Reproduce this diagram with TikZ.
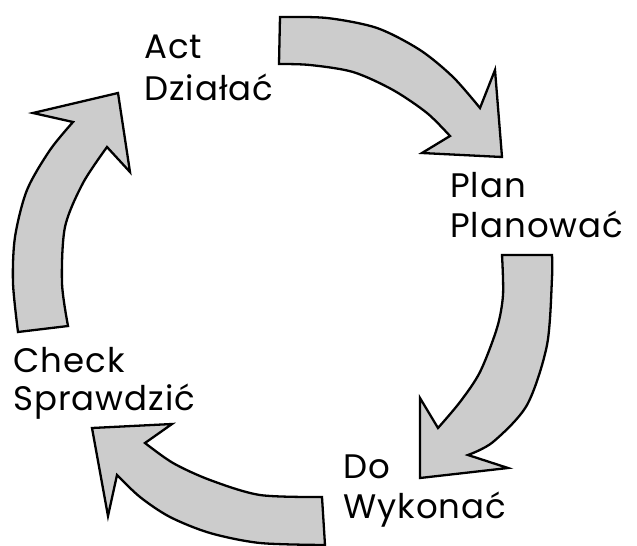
\documentclass[tikz,border=0pt]{standalone}
\usepackage{fontspec}
\setmainfont{Poppins}[LetterSpace=3]
\begin{document}
\begin{tikzpicture}[x=1pt,y=-1pt,
  arrowshape/.style={draw=black,fill=black!20,line width=2.3pt,line join=miter},
  lbl/.style={anchor=base west,inner sep=0pt,font=\fontsize{34}{40}\selectfont}]
\useasboundingbox (0,0) rectangle (637,546);
% top arrow (Act -> Plan)
\draw[arrowshape] plot[smooth] coordinates {(280,17) (327,18) (377,28) (420,50) (453,77) (480,108)}
  -- (495,70) -- (502,157) -- (422,153) -- (450,136)
  -- plot[smooth] coordinates {(450,136) (427,113) (393,90) (353,72) (310,65) (279,64)} -- cycle;
% right arrow (Plan -> Do)
\draw[arrowshape] (502,255) -- (552,255)
  -- plot[smooth] coordinates {(552,255) (552,278) (547,345) (527,405) (493,442) (468,455)}
  -- (508,468) -- (420,478) -- (420,398) -- (438,428)
  -- plot[smooth] coordinates {(438,428) (460,402) (480,372) (497,328) (503,295) (502,255)} -- cycle;
% bottom arrow (Do -> Check)
\draw[arrowshape] (322,497) -- (325,545)
  -- plot[smooth] coordinates {(325,545) (260,543) (210,533) (170,517) (140,497) (117,475)}
  -- (108,516) -- (92,428) -- (172,424) -- (145,443)
  -- plot[smooth] coordinates {(145,443) (173,463) (210,480) (260,495) (322,497)} -- cycle;
% left arrow (Check -> Act)
\draw[arrowshape] (18,332) -- (68,326)
  -- plot[smooth] coordinates {(68,326) (62,283) (65,227) (83,183) (107,147)}
  -- (130,172) -- (118,93) -- (33,113) -- (73,122)
  -- plot[smooth] coordinates {(73,122) (50,150) (27,190) (15,237) (13,283) (18,332)} -- cycle;
% labels
\node[lbl] (act)  at (144,58)  {Act};
\node[lbl] (actp) at (144,100) {Działać};
\node[lbl] (plan)  at (450,197) {Plan};
\node[lbl] (planp) at (450,237) {Planować};
\node[lbl] (check)  at (13,372) {Check};
\node[lbl] (checkp) at (13,410) {Sprawdzić};
\node[lbl] (do)  at (343,478) {Do};
\node[lbl] (dop) at (343,518) {Wykonać};
\end{tikzpicture}
\end{document}
